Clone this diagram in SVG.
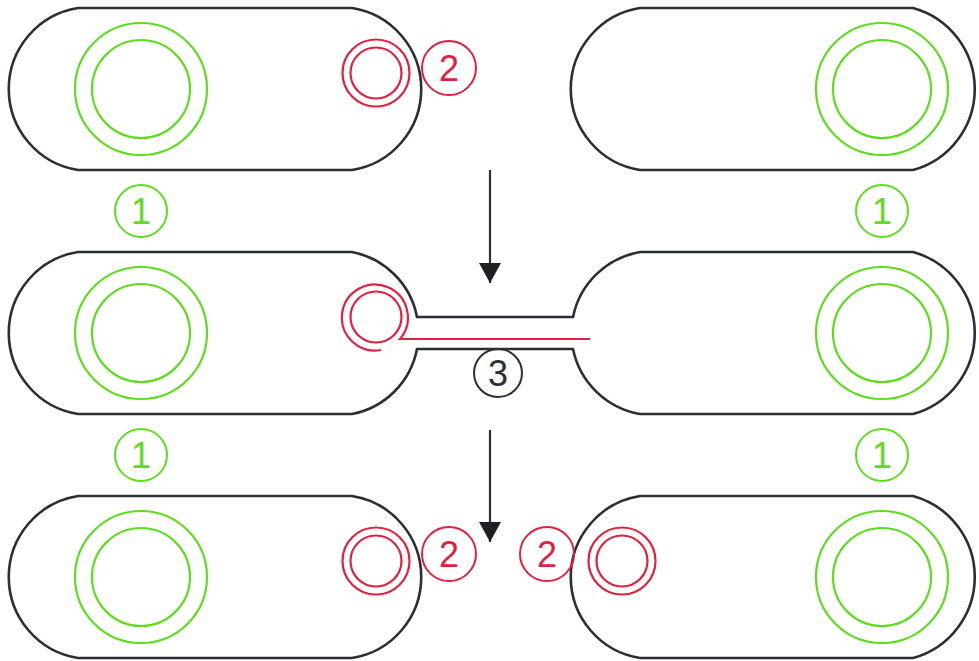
<svg xmlns="http://www.w3.org/2000/svg" width="979" height="661" viewBox="0 0 979 661">
  <style>
    .pill { fill: none; stroke: #2b2f35; stroke-width: 2.6; }
    .green { fill: none; stroke: #5fdc1e; stroke-width: 2.2; }
    .red { fill: none; stroke: #e2203f; stroke-width: 2.2; }
    .tag-g { fill: none; stroke: #5fdc1e; stroke-width: 2; }
    .tag-r { fill: none; stroke: #e2203f; stroke-width: 2; }
    .tag-k { fill: none; stroke: #2b2f35; stroke-width: 2; }
    .num { font-family: "Liberation Sans", Arial, sans-serif; font-size: 36px; text-anchor: middle; }
    .num-g { fill: #5fdc1e; }
    .num-r { fill: #e2203f; }
    .num-k { fill: #2b2f35; }
    .arrow { stroke: #2b2f35; stroke-width: 2.2; fill: none; marker-end: url(#head); }
  </style>
  <defs>
    <!-- solid triangular head, tip at the end of the line -->
    <marker id="head" viewBox="0 0 20 22" refX="20" refY="11" markerWidth="20" markerHeight="22" markerUnits="userSpaceOnUse" orient="auto">
      <path d="M0,0 L20,11 L0,22 Z" fill="#1d2024"/>
    </marker>
    <g id="hole">
      <circle r="66" class="green"/>
      <circle r="49" class="green"/>
    </g>
    <g id="pin">
      <circle r="33.5" class="red"/>
      <circle r="25.5" class="red"/>
    </g>
  </defs>

  <!-- Row 1: two separate blanks -->
  <g id="blank-top-left">
    <path class="pill" d="M78,8 H352 A82,82 0 0 1 352,170 H78 A82,82 0 0 1 78,8 Z"/>
    <use href="#hole" x="141" y="89"/>
  </g>
  <g id="pin-top">
    <use href="#pin" x="376" y="73"/>
  </g>
  <g id="tag-2-top">
    <circle cx="449" cy="68" r="27" class="tag-r"/>
    <text x="449" y="81" class="num num-r">2</text>
  </g>
  <g id="blank-top-right">
    <path class="pill" d="M640,8 H913 A84,84 0 0 1 913,170 H640 A82,82 0 0 1 640,8 Z"/>
    <use href="#hole" x="882" y="89"/>
  </g>
  <g id="tag-1-top-left">
    <circle cx="141" cy="211" r="26" class="tag-g"/>
    <text x="141" y="224" class="num num-g">1</text>
  </g>
  <g id="tag-1-top-right">
    <circle cx="882" cy="211" r="26" class="tag-g"/>
    <text x="882" y="224" class="num num-g">1</text>
  </g>

  <!-- Row 2: blanks joined by a channel -->
  <g id="blank-joined">
    <path class="pill" d="M78,252 H352 A82,82 0 0 1 417,317 H573 A83,83 0 0 1 640,252 H913 A84,84 0 0 1 913,414 H640 A83,83 0 0 1 573,349 H417 A82,82 0 0 1 352,414 H78 A82,82 0 0 1 78,252 Z"/>
    <use href="#hole" x="141" y="333"/>
    <use href="#hole" x="882" y="333"/>
  </g>
  <g id="wire">
    <circle cx="376" cy="317" r="25.5" class="red"/>
    <path class="red" d="M381,350 A33,33 0 1 1 400,339 H590"/>
  </g>
  <g id="tag-3">
    <circle cx="498" cy="373" r="24" class="tag-k"/>
    <text x="498" y="386" class="num num-k">3</text>
  </g>
  <g id="tag-1-mid-left">
    <circle cx="141" cy="455" r="26" class="tag-g"/>
    <text x="141" y="468" class="num num-g">1</text>
  </g>
  <g id="tag-1-mid-right">
    <circle cx="882" cy="455" r="26" class="tag-g"/>
    <text x="882" y="468" class="num num-g">1</text>
  </g>

  <!-- Row 3: separated blanks with pins -->
  <g id="blank-bottom-left">
    <path class="pill" d="M78,496 H352 A82,82 0 0 1 352,658 H78 A82,82 0 0 1 78,496 Z"/>
    <use href="#hole" x="141" y="577"/>
  </g>
  <g id="pin-bottom-left">
    <use href="#pin" x="376" y="561"/>
  </g>
  <g id="tag-2-bottom-left">
    <circle cx="449" cy="554" r="27" class="tag-r"/>
    <text x="449" y="567" class="num num-r">2</text>
  </g>
  <g id="blank-bottom-right">
    <path class="pill" d="M640,496 H913 A84,84 0 0 1 913,658 H640 A82,82 0 0 1 640,496 Z"/>
    <use href="#hole" x="882" y="577"/>
  </g>
  <g id="pin-bottom-right">
    <use href="#pin" x="622" y="561"/>
  </g>
  <g id="tag-2-bottom-right">
    <circle cx="547" cy="554" r="27" class="tag-r"/>
    <text x="547" y="567" class="num num-r">2</text>
  </g>

  <!-- Step arrows -->
  <g id="connectors">
    <line class="arrow" x1="490" y1="170" x2="490" y2="283"/>
    <line class="arrow" x1="490" y1="430" x2="490" y2="542"/>
  </g>
</svg>
